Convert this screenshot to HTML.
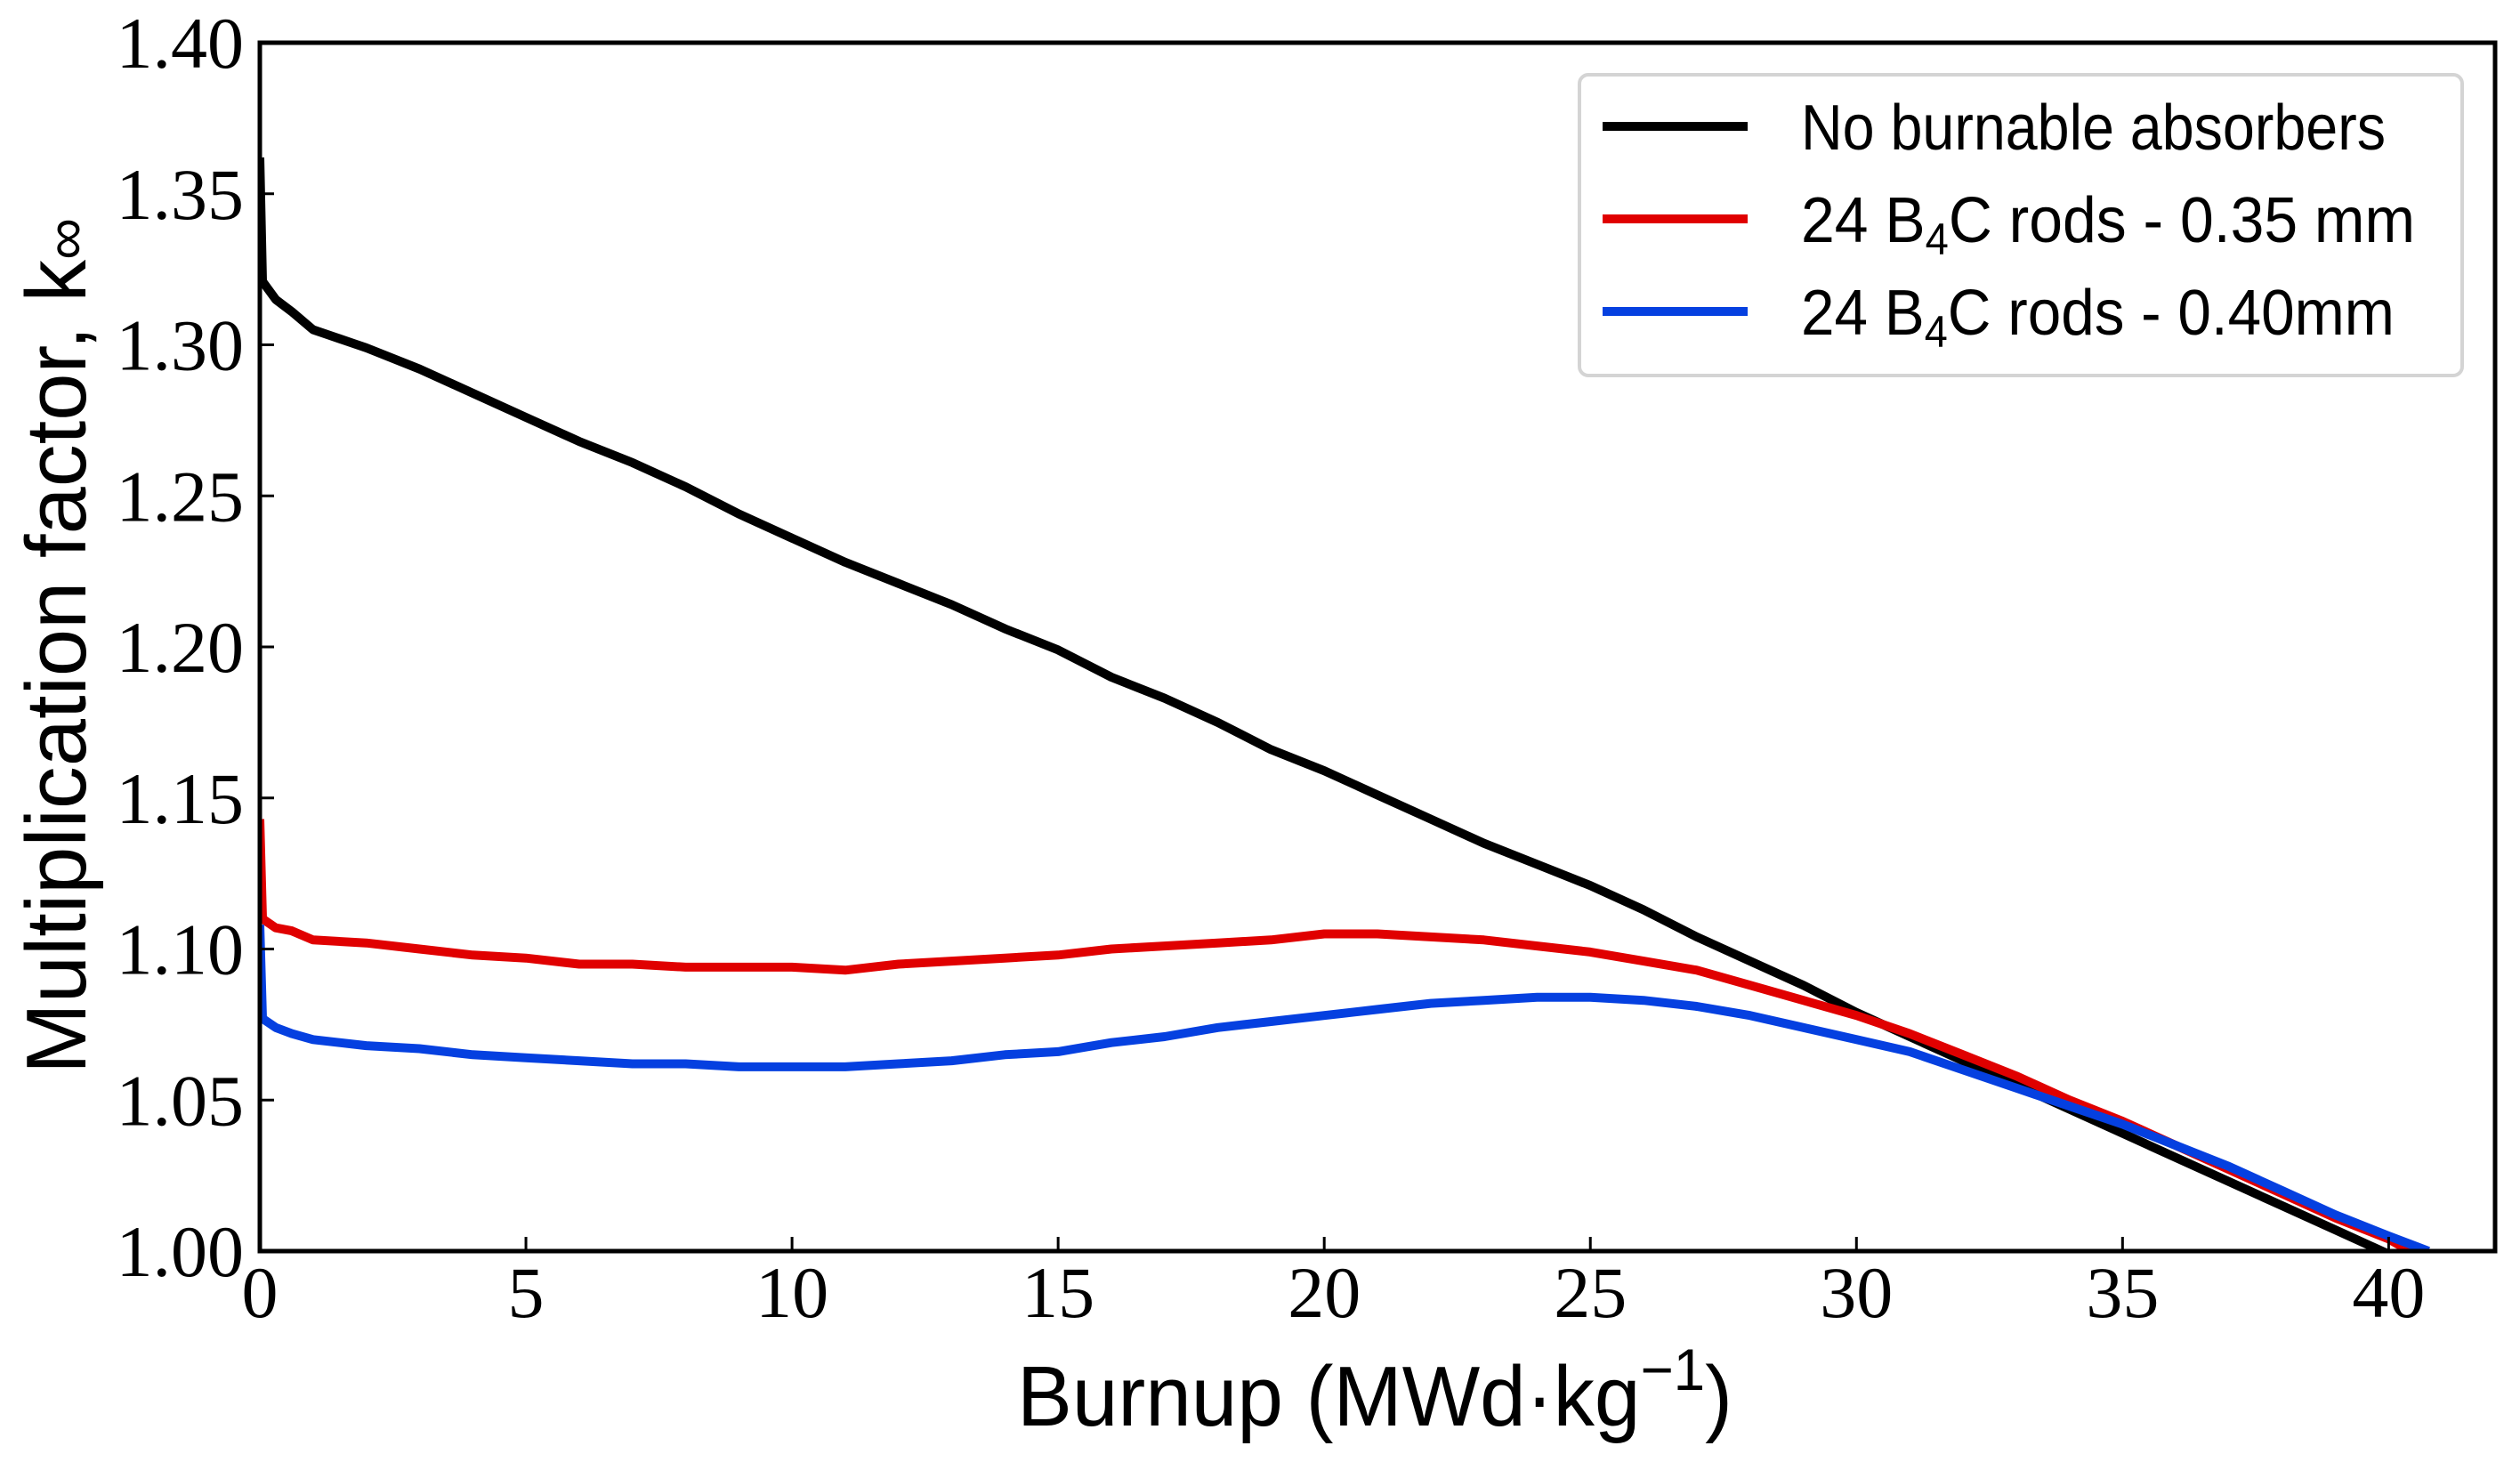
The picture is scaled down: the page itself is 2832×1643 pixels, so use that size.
<!DOCTYPE html>
<html><head><meta charset="utf-8"><style>
html,body{margin:0;padding:0;background:#fff;}
svg{display:block;}
</style></head><body>
<svg id="chart" width="2832" height="1643" viewBox="0 0 2832 1643" xmlns="http://www.w3.org/2000/svg">
<rect width="2832" height="1643" fill="#fff"/>
<g id="plot"></g>
<g id="axes"></g>
<text x="1143" y="1602" font-family="Liberation Sans, sans-serif" font-size="96" textLength="804" lengthAdjust="spacingAndGlyphs">Burnup (MWd·kg<tspan dy="-40" font-size="66">−1</tspan><tspan dy="40">)</tspan></text>
<text transform="translate(96,1207) rotate(-90)" font-family="Liberation Sans, sans-serif" font-size="96" textLength="962" lengthAdjust="spacingAndGlyphs">Multiplication factor, k<tspan font-size="66">∞</tspan></text>
<g>
<rect x="1775" y="84" width="992" height="338" rx="10" fill="#fff" stroke="#d4d4d4" stroke-width="4"/>
<g>
<line x1="1801" y1="142" x2="1964" y2="142" stroke="#000" stroke-width="10"/>
<text x="2024" y="168" font-family="Liberation Sans, sans-serif" font-size="72" textLength="657" lengthAdjust="spacingAndGlyphs">No burnable absorbers</text></g>
<g>
<line x1="1801" y1="246" x2="1964" y2="246" stroke="#e00000" stroke-width="10"/>
<text x="2024" y="272" font-family="Liberation Sans, sans-serif" font-size="72" textLength="690" lengthAdjust="spacingAndGlyphs">24 B<tspan dy="14" font-size="50">4</tspan><tspan dy="-14">C rods - 0.35 mm</tspan></text></g>
<g>
<line x1="1801" y1="350" x2="1964" y2="350" stroke="#0540e0" stroke-width="10"/>
<text x="2024" y="376" font-family="Liberation Sans, sans-serif" font-size="72" textLength="667" lengthAdjust="spacingAndGlyphs">24 B<tspan dy="14" font-size="50">4</tspan><tspan dy="-14">C rods - 0.40mm</tspan></text></g>
</g>
</svg>
<script>
const xTicks=[0,5,10,15,20,25,30,35,40];
const yTicks=[1.00,1.05,1.10,1.15,1.20,1.25,1.30,1.35,1.40];
const yTickLabels=["1.00","1.05","1.10","1.15","1.20","1.25","1.30","1.35","1.40"];
const burnupNoBA=[0,0.05,0.3,0.6,1,2,3,4,5,6,7,8,9,10,11,12,13,14,15,16,17,18,19,20,21,22,23,24,25,26,27,28,29,30,31,32,33,34,35,36,37,38,39,40];
const kNoBA=[1.362,1.321,1.315,1.311,1.305,1.299,1.292,1.284,1.276,1.268,1.261,1.253,1.244,1.236,1.228,1.221,1.214,1.206,1.199,1.190,1.183,1.175,1.166,1.159,1.151,1.143,1.135,1.128,1.121,1.113,1.104,1.096,1.088,1.079,1.071,1.063,1.055,1.047,1.039,1.031,1.023,1.015,1.007,0.999];
const burnupB035=[0,0.05,0.3,0.6,1,2,3,4,5,6,7,8,9,10,11,12,13,14,15,16,17,18,19,20,21,22,23,24,25,26,27,28,29,30,31,32,33,34,35,36,37,38,39,40,40.4];
const kB035=[1.143,1.110,1.107,1.106,1.103,1.102,1.100,1.098,1.097,1.095,1.095,1.094,1.094,1.094,1.093,1.095,1.096,1.097,1.098,1.100,1.101,1.102,1.103,1.105,1.105,1.104,1.103,1.101,1.099,1.096,1.093,1.088,1.083,1.078,1.072,1.065,1.058,1.050,1.043,1.035,1.027,1.019,1.011,1.004,1.000];
const burnupB040=[0,0.05,0.3,0.6,1,2,3,4,5,6,7,8,9,10,11,12,13,14,15,16,17,18,19,20,21,22,23,24,25,26,27,28,29,30,31,32,33,34,35,36,37,38,39,40,40.75];
const kB040=[1.108,1.077,1.074,1.072,1.070,1.068,1.067,1.065,1.064,1.063,1.062,1.062,1.061,1.061,1.061,1.062,1.063,1.065,1.066,1.069,1.071,1.074,1.076,1.078,1.080,1.082,1.083,1.084,1.084,1.083,1.081,1.078,1.074,1.070,1.066,1.060,1.054,1.048,1.042,1.035,1.028,1.020,1.012,1.005,1.000];

const L=292,R=2804,T=48,B=1406,XMAX=42,YMIN=1.0,YMAX=1.4;
function sx(v){return L+(v/XMAX)*(R-L);}
function sy(v){return B-(v-YMIN)/(YMAX-YMIN)*(B-T);}
const NS="http://www.w3.org/2000/svg";
const plot=document.getElementById('plot');
const axes=document.getElementById('axes');
const clip=document.createElementNS(NS,'clipPath');
clip.setAttribute('id','clip');
const cr=document.createElementNS(NS,'rect');
cr.setAttribute('x',L);cr.setAttribute('y',T);cr.setAttribute('width',R-L);cr.setAttribute('height',B-T);
clip.appendChild(cr);plot.appendChild(clip);
function series(xs,ys,color,name){
  const p=document.createElementNS(NS,'polyline');
  p.setAttribute('points',xs.map((x,i)=>sx(x).toFixed(1)+','+sy(ys[i]).toFixed(1)).join(' '));
  p.setAttribute('fill','none');p.setAttribute('stroke',color);p.setAttribute('stroke-width','10');
  p.setAttribute('stroke-linejoin','round');p.setAttribute('clip-path','url(#clip)');
  
  
  plot.appendChild(p);
}
series(burnupNoBA,kNoBA,'#000','line-no-burnable-absorbers');
series(burnupB035,kB035,'#e00000','line-b4c-0-35mm');
series(burnupB040,kB040,'#0540e0','line-b4c-0-40mm');
const fr=document.createElementNS(NS,'rect');
fr.setAttribute('x',L);fr.setAttribute('y',T);fr.setAttribute('width',R-L);fr.setAttribute('height',B-T);
fr.setAttribute('fill','none');fr.setAttribute('stroke','#000');fr.setAttribute('stroke-width','5');


axes.appendChild(fr);
xTicks.forEach(v=>{
  const t=document.createElementNS(NS,'line');
  t.setAttribute('x1',sx(v));t.setAttribute('x2',sx(v));t.setAttribute('y1',B);t.setAttribute('y2',B-16);
  t.setAttribute('stroke','#000');t.setAttribute('stroke-width','3');
  
  
  axes.appendChild(t);
  const tx=document.createElementNS(NS,'text');
  tx.setAttribute('x',sx(v));tx.setAttribute('y',1480);tx.setAttribute('text-anchor','middle');
  tx.setAttribute('font-family','Liberation Serif, serif');tx.setAttribute('font-size','82');
  tx.textContent=String(v);
  
  
  axes.appendChild(tx);
});
yTicks.forEach((v,i)=>{
  const t=document.createElementNS(NS,'line');
  t.setAttribute('x1',L);t.setAttribute('x2',L+16);t.setAttribute('y1',sy(v));t.setAttribute('y2',sy(v));
  t.setAttribute('stroke','#000');t.setAttribute('stroke-width','3');
  
  
  axes.appendChild(t);
  const tx=document.createElementNS(NS,'text');
  tx.setAttribute('x',274);tx.setAttribute('y',sy(v)+28);tx.setAttribute('text-anchor','end');
  tx.setAttribute('font-family','Liberation Serif, serif');tx.setAttribute('font-size','82');
  tx.textContent=yTickLabels[i];
  
  
  axes.appendChild(tx);
});
</script>
</body></html>
